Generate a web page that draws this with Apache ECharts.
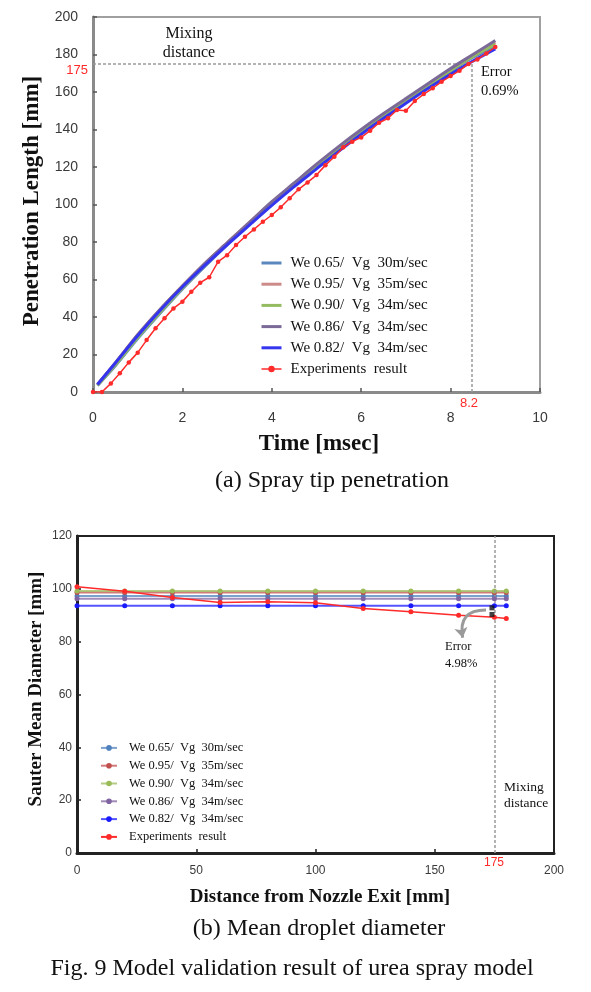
<!DOCTYPE html>
<html>
<head>
<meta charset="utf-8">
<script src="https://cdn.jsdelivr.net/npm/echarts@6/dist/echarts.min.js"></script>
<style>
html,body{margin:0;padding:0;background:#fff;}
#chart{width:591px;height:992px;}
</style>
</head>
<body>
<div id="chart"></div>
<script>
// ---------- (a) Spray tip penetration ----------
const seriesNamesA = ['We 0.65/  Vg  30m/sec','We 0.95/  Vg  35m/sec','We 0.90/  Vg  34m/sec','We 0.86/  Vg  34m/sec','We 0.82/  Vg  34m/sec','Experiments  result'];
const modelTime = [0.1,0.5,1,1.5,2,2.5,3,3.5,4,4.5,5,5.5,6,6.5,7,7.5,8,8.5,9];
const penWe065 = [3.5,14,28.5,42,55,67,78.5,89.5,100,110,120,129.5,138.5,147,155,163,171,178.5,184.5];
const penWe095 = [4,15.5,30.5,44,56.5,68.5,79.5,90.5,101,111,121,130.5,139.5,148,156,164,172,179.5,186.5];
const penWe090 = [3.5,14.5,29,42.5,55.5,67.5,79,90,100.5,110.5,120.5,130,139,147.5,155.5,163.5,171.5,179,185.5];
const penWe086 = [4,15.5,30.5,44,56.5,68.5,79.5,90.5,101.5,111.5,121.5,131,140,148.5,156.5,164.5,172.5,180,187.5];
const penWe082 = [4,15.5,30,43.5,56,67.5,78.5,89,99.5,109.5,119,128.5,137.5,146,154,162,169.5,176.5,183];
const expTime = [0,0.2,0.4,0.6,0.8,1.0,1.2,1.4,1.6,1.8,2.0,2.2,2.4,2.6,2.8,3.0,3.2,3.4,3.6,3.8,4.0,4.2,4.4,4.6,4.8,5.0,5.2,5.4,5.6,5.8,6.0,6.2,6.4,6.6,6.8,7.0,7.2,7.4,7.6,7.8,8.0,8.2,8.4,8.6,8.8,9.0];
const expPen = [0,0,4.6,10,15.8,21,27.7,34,39.3,44.6,48.2,53.5,58.3,61.2,69.5,73,78.4,82.8,86.7,90.8,94.4,98.5,103.3,108.1,111.8,115.7,121,125.5,130.5,133.5,135.8,139.4,143.6,146,150.4,150,155.2,158.9,162,165.5,168.5,171.4,175,177.4,180.6,184];
const mixingLength = 175;
const mixingTime = 8.48;
const xTicksA = [0,2,4,6,8,10];
const yTicksA = [0,20,40,60,80,100,120,140,160,180,200];

// ---------- (b) Mean droplet diameter ----------
const seriesNamesB = ['We 0.65/  Vg  30m/sec','We 0.95/  Vg  35m/sec','We 0.90/  Vg  34m/sec','We 0.86/  Vg  34m/sec','We 0.82/  Vg  34m/sec','Experiments  result'];
const distance = [0,20,40,60,80,100,120,140,160,175,180];
const smdWe065 = [97.3,97.3,97.3,97.3,97.3,97.3,97.3,97.3,97.3,97.3,97.3];
const smdWe095 = [98.6,98.6,98.6,98.6,98.6,98.6,98.6,98.6,98.6,98.6,98.6];
const smdWe090 = [99.2,99.2,99.2,99.2,99.2,99.2,99.2,99.2,99.2,99.2,99.2];
const smdWe086 = [96.2,96.2,96.2,96.2,96.2,96.2,96.2,96.2,96.2,96.2,96.2];
const smdWe082 = [93.6,93.6,93.6,93.6,93.6,93.6,93.6,93.6,93.6,93.6,93.6];
const smdExp = [100.8,99.1,96.7,94.8,95.1,94.7,92.6,91.3,90.0,89.2,88.8];
const errorMarkX = [174,174];
const errorMarkY = [92.8,90.3];
const errorArrowFrom = [161.7, 81.5];
const errorArrowTo = [171.5, 92];
const mixingDistanceB = 175;
const xTicksB = [0,50,100,150,200];
const yTicksB = [0,20,40,60,80,100,120];

const colorsA = ['#5a87bd','#cc8a88','#94bb60','#7b6a98','#3535f0','#ff2a2a'];
const colorsB = ['#4f81bd','#c0504d','#9bbb59','#8064a2','#1a1aff','#ff2a2a'];
const serif = '"Liberation Serif", "DejaVu Serif", serif';
const sans = '"Liberation Sans", Arial, sans-serif';
const SUF = '\u200B';

function zip(xs, ys){ return xs.map((x,i)=>[x, ys[i]]); }

const modelsA = [penWe065, penWe095, penWe090, penWe086, penWe082];
const modelsB = [smdWe065, smdWe095, smdWe090, smdWe086, smdWe082];

const series = [];
modelsA.forEach((arr,i)=>{
  series.push({
    name: seriesNamesA[i], type:'line', xAxisIndex:0, yAxisIndex:0,
    data: zip(modelTime, arr), smooth:0.3, showSymbol:false, symbol:'none',
    lineStyle:{width:3, color:colorsA[i]}, itemStyle:{color:colorsA[i]}, z:2+i
  });
});
series.push({
  name: seriesNamesA[5], type:'line', xAxisIndex:0, yAxisIndex:0,
  data: zip(expTime, expPen), symbol:'circle', symbolSize:4.5,
  lineStyle:{width:1.5, color:colorsA[5]}, itemStyle:{color:colorsA[5]}, z:10,
  markLine:{
    silent:true, symbol:['none','none'], label:{show:false},
    lineStyle:{color:'#9a9a9a', type:[3,2], width:1.5},
    data:[
      [{coord:[0, mixingLength]},{coord:[mixingTime, mixingLength]}],
      [{coord:[mixingTime, mixingLength]},{coord:[mixingTime, 0]}]
    ]
  }
});
modelsB.forEach((arr,i)=>{
  series.push({
    name: seriesNamesB[i]+SUF, type:'line', xAxisIndex:1, yAxisIndex:1,
    data: zip(distance, arr), symbol:'circle', symbolSize:5, showSymbol:true,
    lineStyle:{width:2, color:colorsB[i], opacity:0.75}, itemStyle:{color:colorsB[i]}, z:2+i
  });
});
series.push({
  name: seriesNamesB[5]+SUF, type:'line', xAxisIndex:1, yAxisIndex:1,
  data: zip(distance, smdExp), symbol:'circle', symbolSize:5,
  lineStyle:{width:1.5, color:colorsB[5]}, itemStyle:{color:colorsB[5]}, z:10,
  markLine:{
    silent:true, symbol:['none','none'], label:{show:false},
    lineStyle:{color:'#9a9a9a', type:[3,2], width:1.5},
    data:[ {xAxis: mixingDistanceB} ]
  }
});
series.push({
  name:'errorMarks', type:'scatter', xAxisIndex:1, yAxisIndex:1,
  data: zip(errorMarkX, errorMarkY), symbol:'rect', symbolSize:5,
  itemStyle:{color:'#111'}, z:12
});
series.push({
  name:'errorArrow', type:'lines', coordinateSystem:'cartesian2d', xAxisIndex:1, yAxisIndex:1,
  silent:true, symbol:['arrow','none'], symbolSize:[10,10], z:11,
  lineStyle:{color:'#9a9a9a', width:3, curveness:0.6, opacity:1},
  data:[ {coords:[errorArrowFrom, errorArrowTo]} ]
});

const axisLabelA = {fontFamily:sans, fontSize:14, color:'#3a3a3a'};
const axisLabelB = {fontFamily:sans, fontSize:12, color:'#3a3a3a'};

const legendDataA = seriesNamesA.map((n,i)=> i<5 ? {name:n, itemStyle:{opacity:0}, lineStyle:{width:3}} : {name:n, lineStyle:{width:1.5}});

const option = {
  animation:false,
  backgroundColor:'#ffffff',
  grid:[
    {left:93, top:17, width:447, height:375, show:true, borderColor:'#a0a0a0', borderWidth:2, containLabel:false},
    {left:77, top:536, width:477, height:317, show:true, borderColor:'#222', borderWidth:2, containLabel:false}
  ],
  xAxis:[
    {type:'value', gridIndex:0, min:xTicksA[0], max:xTicksA[xTicksA.length-1], interval:xTicksA[1]-xTicksA[0],
     axisLine:{onZero:false, lineStyle:{color:'#8a8a8a', width:3}},
     axisTick:{inside:true, length:4, lineStyle:{color:'#555', width:1.5}},
     axisLabel:Object.assign({margin:19}, axisLabelA), splitLine:{show:false}},
    {type:'value', gridIndex:1, min:xTicksB[0], max:xTicksB[xTicksB.length-1], interval:xTicksB[1]-xTicksB[0],
     axisLine:{onZero:false, lineStyle:{color:'#222', width:3}},
     axisTick:{inside:true, length:4, lineStyle:{color:'#222', width:1.5}},
     axisLabel:Object.assign({margin:12}, axisLabelB), splitLine:{show:false}}
  ],
  yAxis:[
    {type:'value', gridIndex:0, min:yTicksA[0], max:yTicksA[yTicksA.length-1], interval:yTicksA[1]-yTicksA[0],
     axisLine:{show:true, onZero:false, lineStyle:{color:'#8a8a8a', width:3}},
     axisTick:{show:true, inside:true, length:4, lineStyle:{color:'#555', width:1.5}},
     axisLabel:Object.assign({margin:15}, axisLabelA), splitLine:{show:false}},
    {type:'value', gridIndex:1, min:yTicksB[0], max:yTicksB[yTicksB.length-1], interval:yTicksB[1]-yTicksB[0],
     axisLine:{show:true, onZero:false, lineStyle:{color:'#222', width:3}},
     axisTick:{show:true, inside:true, length:4, lineStyle:{color:'#222', width:1.5}},
     axisLabel:Object.assign({margin:5}, axisLabelB), splitLine:{show:false}}
  ],
  legend:[
    {orient:'vertical', left:255, top:250.5, itemWidth:20, itemHeight:8, itemGap:6.2,
     data: legendDataA, textStyle:{fontFamily:serif, fontSize:15, color:'#111', padding:[0,0,0,4]}},
    {orient:'vertical', left:95, top:736.4, itemWidth:16, itemHeight:7, itemGap:4.8,
     data: seriesNamesB.map(n=>n+SUF), formatter:(n)=>n.replace(SUF,''),
     textStyle:{fontFamily:serif, fontSize:12.5, color:'#111', padding:[0,0,0,7]}}
  ],
  series: series,
  graphic:[
    {type:'text', x:32, y:201, rotation:Math.PI/2, style:{text:'Penetration Length [mm]', font:'bold 23px '+serif, fill:'#111', align:'center', verticalAlign:'middle'}},
    {type:'text', x:319, y:444, style:{text:'Time [msec]', font:'bold 23px '+serif, fill:'#111', align:'center', verticalAlign:'middle'}},
    {type:'text', x:332, y:481, style:{text:'(a) Spray tip penetration', font:'24px '+serif, fill:'#111', align:'center', verticalAlign:'middle'}},
    {type:'text', x:189, y:43.5, style:{text:'Mixing\ndistance', font:'16px '+serif, fill:'#111', align:'center', verticalAlign:'middle', lineHeight:19}},
    {type:'text', x:88, y:70, style:{text:'175', font:'13px '+sans, fill:'#ff2a2a', align:'right', verticalAlign:'middle'}},
    {type:'text', x:469, y:403, style:{text:'8.2', font:'13px '+sans, fill:'#ff2a2a', align:'center', verticalAlign:'middle'}},
    {type:'text', x:481, y:81.7, style:{text:'Error\n0.69%', font:'14.5px '+serif, fill:'#111', align:'left', verticalAlign:'middle', lineHeight:19}},

    {type:'text', x:36, y:689, rotation:Math.PI/2, style:{text:'Sauter Mean Diameter [mm]', font:'bold 19px '+serif, fill:'#111', align:'center', verticalAlign:'middle'}},
    {type:'text', x:320, y:897, style:{text:'Distance from Nozzle Exit [mm]', font:'bold 19px '+serif, fill:'#111', align:'center', verticalAlign:'middle'}},
    {type:'text', x:319, y:929, style:{text:'(b) Mean droplet diameter', font:'24px '+serif, fill:'#111', align:'center', verticalAlign:'middle'}},
    {type:'text', x:292, y:969, style:{text:'Fig. 9 Model validation result of urea spray model', font:'24px '+serif, fill:'#111', align:'center', verticalAlign:'middle'}},
    {type:'text', x:445, y:655, style:{text:'Error\n4.98%', font:'12.5px '+serif, fill:'#111', align:'left', verticalAlign:'middle', lineHeight:16.5}},
    {type:'text', x:504, y:795, style:{text:'Mixing\ndistance', font:'13.5px '+serif, fill:'#111', align:'left', verticalAlign:'middle', lineHeight:16}},
    {type:'text', x:494, y:863, style:{text:'175', font:'12px '+sans, fill:'#ff2a2a', align:'center', verticalAlign:'middle'}}
  ]
};
const chart = echarts.init(document.getElementById('chart'), null, {renderer:'canvas'});
chart.setOption(option);
</script>
</body>
</html>
